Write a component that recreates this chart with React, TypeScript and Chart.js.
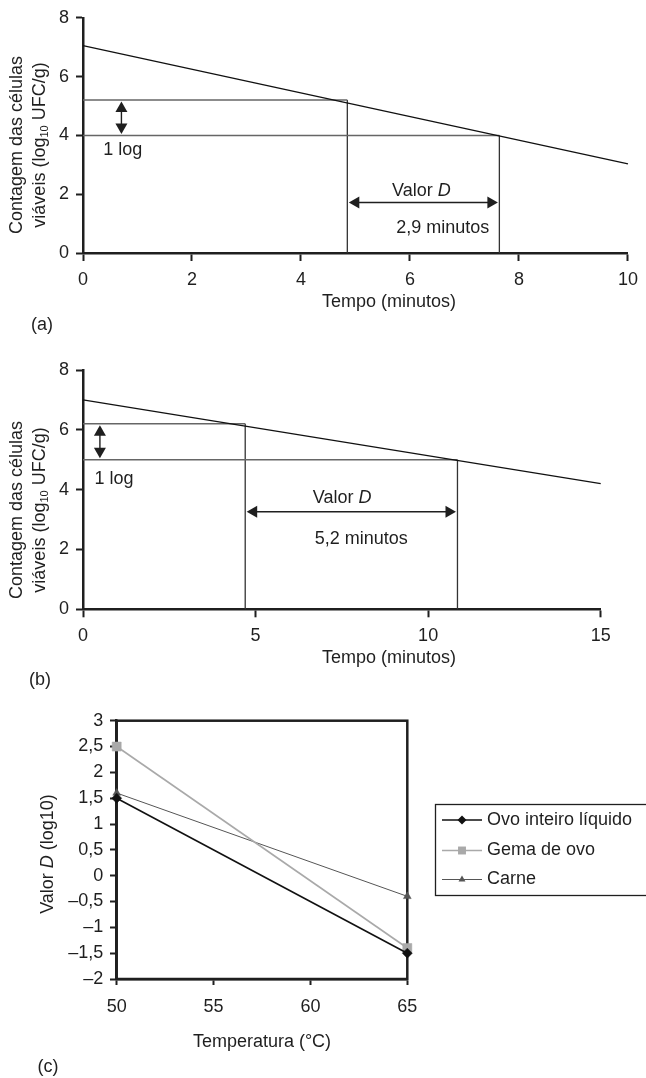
import React, { useEffect, useRef } from 'react';
import { Chart, registerables } from 'chart.js';

Chart.register(...registerables);

const FONT = '"Liberation Sans", Arial, Helvetica, sans-serif';
const INK = '#1f1f1f';
const W = 646;

// ---------- Panel (a) ----------
const aTime = [0, 10];
const aCount = [7.05, 3.03];
const aLevels = [5.2, 4.0];
const aLevelTimes = [4.85, 7.64];
const aXTicks = [0, 2, 4, 6, 8, 10];
const aYTicks = [0, 2, 4, 6, 8];
const aDLabel = '2,9 minutos';

// ---------- Panel (b) ----------
const bTime = [0, 15];
const bCount = [7.0, 4.2];
const bLevels = [6.2, 5.0];
const bLevelTimes = [4.7, 10.85];
const bXTicks = [0, 5, 10, 15];
const bYTicks = [0, 2, 4, 6, 8];
const bDLabel = '5,2 minutos';

// ---------- Panel (c) ----------
const temperatures = [50, 65];
const seriesNames = ['Ovo inteiro líquido', 'Gema de ovo', 'Carne'];
const ovoInteiro = [1.5, -1.5];
const gemaDeOvo = [2.5, -1.4];
const carne = [1.6, -0.4];
const cXTicks = [50, 55, 60, 65];
const cYTicks = [3, 2.5, 2, 1.5, 1, 0.5, 0, -0.5, -1, -1.5, -2];
const cYLabels = ['3', '2,5', '2', '1,5', '1', '0,5', '0', '–0,5', '–1', '–1,5', '–2'];

const logText = '1 log';
const xTitleTime = 'Tempo (minutos)';
const xTitleTemp = 'Temperatura (°C)';

type Seg = { t: string; size?: number; italic?: boolean; dy?: number };

function drawRich(ctx: CanvasRenderingContext2D, segs: Seg[], x: number, y: number, rot = 0, align: 'center' | 'left' = 'center') {
  ctx.save();
  ctx.translate(x, y);
  ctx.rotate(rot);
  ctx.fillStyle = INK;
  ctx.textBaseline = 'middle';
  ctx.textAlign = 'left';
  const fontOf = (s: Seg) => `${s.italic ? 'italic ' : ''}${s.size ?? 18}px ${FONT}`;
  let total = 0;
  for (const s of segs) {
    ctx.font = fontOf(s);
    total += ctx.measureText(s.t).width;
  }
  let cx = align === 'center' ? -total / 2 : 0;
  for (const s of segs) {
    ctx.font = fontOf(s);
    ctx.fillText(s.t, cx, s.dy ?? 0);
    cx += ctx.measureText(s.t).width;
  }
  ctx.restore();
}

function arrowHead(ctx: CanvasRenderingContext2D, tx: number, ty: number, dx: number, dy: number, len = 10.5, half = 6) {
  const bx = tx - dx * len;
  const by = ty - dy * len;
  ctx.beginPath();
  ctx.moveTo(tx, ty);
  ctx.lineTo(bx - dy * half, by + dx * half);
  ctx.lineTo(bx + dy * half, by - dx * half);
  ctx.closePath();
  ctx.fill();
}

function doubleArrow(ctx: CanvasRenderingContext2D, x1: number, y1: number, x2: number, y2: number) {
  const len = Math.hypot(x2 - x1, y2 - y1);
  const ux = (x2 - x1) / len;
  const uy = (y2 - y1) / len;
  ctx.save();
  ctx.strokeStyle = INK;
  ctx.fillStyle = INK;
  ctx.lineWidth = 1.4;
  ctx.beginPath();
  ctx.moveTo(x1 + ux * 4, y1 + uy * 4);
  ctx.lineTo(x2 - ux * 4, y2 - uy * 4);
  ctx.stroke();
  arrowHead(ctx, x1, y1, -ux, -uy);
  arrowHead(ctx, x2, y2, ux, uy);
  ctx.restore();
}

function axisCommon(tickLen: number, pad: number) {
  return {
    type: 'linear' as const,
    grid: { drawOnChartArea: false, drawTicks: true, tickLength: tickLen, tickWidth: 2, tickColor: INK, color: INK },
    border: { display: true, color: INK, width: 2.5 },
    ticks: { color: INK, font: { family: FONT, size: 18 }, padding: pad, autoSkip: false, maxRotation: 0 },
  };
}

interface TimeSpec {
  letter: string;
  height: number;
  time: number[];
  count: number[];
  levels: number[];
  levelTimes: number[];
  xTicks: number[];
  yTicks: number[];
  dLabel: string;
  area: { left: number; top: number; right: number; bottom: number };
  logArrowX: number;
  dArrowY: number;
  logNote: [number, number];
  valorNote: [number, number];
  dNote: [number, number];
  yTitleY: number;
  xTitle: [number, number];
  letterPos: [number, number];
}

const specA: TimeSpec = {
  letter: '(a)', height: 340,
  time: aTime, count: aCount, levels: aLevels, levelTimes: aLevelTimes,
  xTicks: aXTicks, yTicks: aYTicks, dLabel: aDLabel,
  area: { left: 83, top: 15, right: 632, bottom: 253 },
  logArrowX: 0.705, dArrowY: 1.72,
  logNote: [0.73, 3.49], valorNote: [6.21, 2.12], dNote: [6.6, 0.85],
  yTitleY: 145, xTitle: [389, 302], letterPos: [42, 325],
};

const specB: TimeSpec = {
  letter: '(b)', height: 360,
  time: bTime, count: bCount, levels: bLevels, levelTimes: bLevelTimes,
  xTicks: bXTicks, yTicks: bYTicks, dLabel: bDLabel,
  area: { left: 83, top: 30, right: 600.7, bottom: 269.3 },
  logArrowX: 0.49, dArrowY: 3.26,
  logNote: [0.9, 4.36], valorNote: [7.51, 3.73], dNote: [8.06, 2.34],
  yTitleY: 170, xTitle: [389, 318], letterPos: [40, 340],
};

function timeConfig(s: TimeSpec): any {
  const pts = (xs: number[], ys: number[]) => xs.map((x, i) => ({ x, y: ys[i] }));
  const xMin = s.xTicks[0];
  const xMax = s.xTicks[s.xTicks.length - 1];
  const yMin = s.yTicks[0];
  const yMax = s.yTicks[s.yTicks.length - 1];
  const datasets = [
    { data: pts(s.time, s.count), borderColor: '#111', borderWidth: 1.3 },
    ...s.levels.map((lv, i) => ({
      data: [{ x: xMin, y: lv }, { x: s.levelTimes[i], y: lv }],
      borderColor: '#666', borderWidth: 1.5,
    })),
    ...s.levels.map((lv, i) => ({
      data: [{ x: s.levelTimes[i], y: lv }, { x: s.levelTimes[i], y: yMin }],
      borderColor: '#333', borderWidth: 1.3,
    })),
  ].map((d) => ({ ...d, pointRadius: 0, clip: false, tension: 0, fill: false }));

  const notes = {
    id: 'timeNotes',
    afterDatasetsDraw(chart: any) {
      const ctx = chart.ctx as CanvasRenderingContext2D;
      const xs = chart.scales.x;
      const ys = chart.scales.y;
      const ax = xs.getPixelForValue(s.logArrowX);
      doubleArrow(ctx, ax, ys.getPixelForValue(s.levels[0]) + 1.5, ax, ys.getPixelForValue(s.levels[1]) - 1.5);
      const ay = ys.getPixelForValue(s.dArrowY);
      doubleArrow(ctx, xs.getPixelForValue(s.levelTimes[0]) + 1.5, ay, xs.getPixelForValue(s.levelTimes[1]) - 1.5, ay);
      drawRich(ctx, [{ t: logText }], xs.getPixelForValue(s.logNote[0]), ys.getPixelForValue(s.logNote[1]));
      drawRich(ctx, [{ t: 'Valor ' }, { t: 'D', italic: true }], xs.getPixelForValue(s.valorNote[0]), ys.getPixelForValue(s.valorNote[1]));
      drawRich(ctx, [{ t: s.dLabel }], xs.getPixelForValue(s.dNote[0]), ys.getPixelForValue(s.dNote[1]));
    },
    afterDraw(chart: any) {
      const ctx = chart.ctx as CanvasRenderingContext2D;
      drawRich(ctx, [{ t: 'Contagem das células' }], 17, s.yTitleY, -Math.PI / 2);
      drawRich(ctx, [{ t: 'viáveis (log' }, { t: '10', size: 11, dy: 5 }, { t: ' UFC/g)' }], 40, s.yTitleY, -Math.PI / 2);
      drawRich(ctx, [{ t: xTitleTime }], s.xTitle[0], s.xTitle[1]);
      drawRich(ctx, [{ t: s.letter }], s.letterPos[0], s.letterPos[1]);
    },
  };

  return {
    type: 'line',
    data: { datasets },
    options: {
      animation: false,
      responsive: false,
      events: [],
      layout: { padding: { left: 0, top: s.area.top, right: W - s.area.right, bottom: 0 } },
      plugins: { legend: { display: false }, tooltip: { enabled: false } },
      scales: {
        x: {
          ...axisCommon(8, 8),
          min: xMin, max: xMax,
          afterBuildTicks: (sc: any) => { sc.ticks = s.xTicks.map((v) => ({ value: v })); },
          afterFit: (sc: any) => { sc.height = s.height - s.area.bottom; },
        },
        y: {
          ...axisCommon(7, 7),
          min: yMin, max: yMax,
          afterBuildTicks: (sc: any) => { sc.ticks = s.yTicks.map((v) => ({ value: v })); },
          afterFit: (sc: any) => { sc.width = s.area.left; },
        },
      },
    },
    plugins: [notes],
  };
}

const cStyles = [
  { color: '#111111', width: 1.6, point: 'rectRot', r: 5 },
  { color: '#a9a9a9', width: 1.6, point: 'rect', r: 6.4 },
  { color: '#555555', width: 1, point: 'triangle', r: 4.5 },
];

function drawMarker(ctx: CanvasRenderingContext2D, style: string, x: number, y: number, r: number, color: string) {
  ctx.save();
  ctx.fillStyle = color;
  ctx.beginPath();
  if (style === 'rectRot') {
    ctx.moveTo(x, y - r); ctx.lineTo(x + r, y); ctx.lineTo(x, y + r); ctx.lineTo(x - r, y);
  } else if (style === 'rect') {
    const h = r * Math.SQRT1_2;
    ctx.rect(x - h, y - h, 2 * h, 2 * h);
  } else {
    ctx.moveTo(x, y - r); ctx.lineTo(x + r * 0.87, y + r * 0.5); ctx.lineTo(x - r * 0.87, y + r * 0.5);
  }
  ctx.closePath();
  ctx.fill();
  ctx.restore();
}

function tempConfig(): any {
  const H = 378;
  const area = { left: 116.7, top: 20.7, right: 407.3, bottom: 279 };
  const series = [ovoInteiro, gemaDeOvo, carne];
  const datasets = series.map((vals, i) => ({
    label: seriesNames[i],
    data: temperatures.map((t, j) => ({ x: t, y: vals[j] })),
    borderColor: cStyles[i].color,
    backgroundColor: cStyles[i].color,
    borderWidth: cStyles[i].width,
    pointStyle: cStyles[i].point,
    pointRadius: cStyles[i].r,
    pointBorderWidth: 0.5,
    pointBorderColor: cStyles[i].color,
    pointBackgroundColor: cStyles[i].color,
    clip: false,
    tension: 0,
    fill: false,
  }));

  const extras = {
    id: 'tempExtras',
    beforeDatasetsDraw(chart: any) {
      const ctx = chart.ctx as CanvasRenderingContext2D;
      const a = chart.chartArea;
      ctx.save();
      ctx.strokeStyle = INK;
      ctx.lineWidth = 2.5;
      ctx.strokeRect(a.left, a.top, a.right - a.left, a.bottom - a.top);
      ctx.restore();
    },
    afterDraw(chart: any) {
      const ctx = chart.ctx as CanvasRenderingContext2D;
      // legend
      const box = { left: 435.5, top: 104.5, bottom: 195.5 };
      ctx.save();
      ctx.strokeStyle = INK;
      ctx.lineWidth = 1.3;
      ctx.strokeRect(box.left, box.top, W + 10 - box.left, box.bottom - box.top);
      ctx.restore();
      const rowY = [120, 150.5, 179.5];
      chart.data.datasets.forEach((ds: any, i: number) => {
        const y = rowY[i];
        ctx.save();
        ctx.strokeStyle = ds.borderColor;
        ctx.lineWidth = ds.borderWidth;
        ctx.beginPath();
        ctx.moveTo(442, y);
        ctx.lineTo(482, y);
        ctx.stroke();
        ctx.restore();
        drawMarker(ctx, ds.pointStyle, 462, y, ds.pointStyle === 'rect' ? 5.6 : ds.pointStyle === 'triangle' ? 4 : 4.5, ds.borderColor);
        drawRich(ctx, [{ t: ds.label }], 487, y, 0, 'left');
      });
      drawRich(ctx, [{ t: 'Valor ' }, { t: 'D', italic: true }, { t: ' (log10)' }], 48, 154, -Math.PI / 2);
      drawRich(ctx, [{ t: xTitleTemp }], 262, 341.7);
      drawRich(ctx, [{ t: '(c)' }], 48, 367);
    },
  };

  return {
    type: 'line',
    data: { datasets },
    options: {
      animation: false,
      responsive: false,
      events: [],
      layout: { padding: { left: 0, top: area.top, right: W - area.right, bottom: 0 } },
      plugins: { legend: { display: false }, tooltip: { enabled: false } },
      scales: {
        x: {
          ...axisCommon(6, 11),
          min: cXTicks[0], max: cXTicks[cXTicks.length - 1],
          afterBuildTicks: (sc: any) => { sc.ticks = cXTicks.map((v) => ({ value: v })); },
          afterFit: (sc: any) => { sc.height = H - area.bottom; },
        },
        y: {
          ...axisCommon(6.7, 6.7),
          min: cYTicks[cYTicks.length - 1], max: cYTicks[0],
          afterBuildTicks: (sc: any) => { sc.ticks = cYTicks.map((v) => ({ value: v })); },
          afterFit: (sc: any) => { sc.width = area.left; },
          ticks: {
            ...axisCommon(6.7, 6.7).ticks,
            callback: (v: number) => {
              const k = cYTicks.findIndex((t) => Math.abs(t - v) < 1e-9);
              return k >= 0 ? cYLabels[k] : '';
            },
          },
        },
      },
    },
    plugins: [extras],
  };
}

function Panel({ top, height, make }: { top: number; height: number; make: () => any }) {
  const ref = useRef<HTMLCanvasElement>(null);
  useEffect(() => {
    if (!ref.current) return;
    const chart = new Chart(ref.current, make());
    return () => chart.destroy();
  }, []);
  return (
    <canvas
      ref={ref}
      width={W}
      height={height}
      style={{ position: 'absolute', left: 0, top, width: W, height, display: 'block' }}
    />
  );
}

export default function App() {
  return (
    <div style={{ position: 'absolute', left: 0, top: 0, width: W, height: 1078, background: '#fff', overflow: 'hidden' }}>
      <Panel top={0} height={340} make={() => timeConfig(specA)} />
      <Panel top={340} height={360} make={() => timeConfig(specB)} />
      <Panel top={700} height={378} make={tempConfig} />
    </div>
  );
}
